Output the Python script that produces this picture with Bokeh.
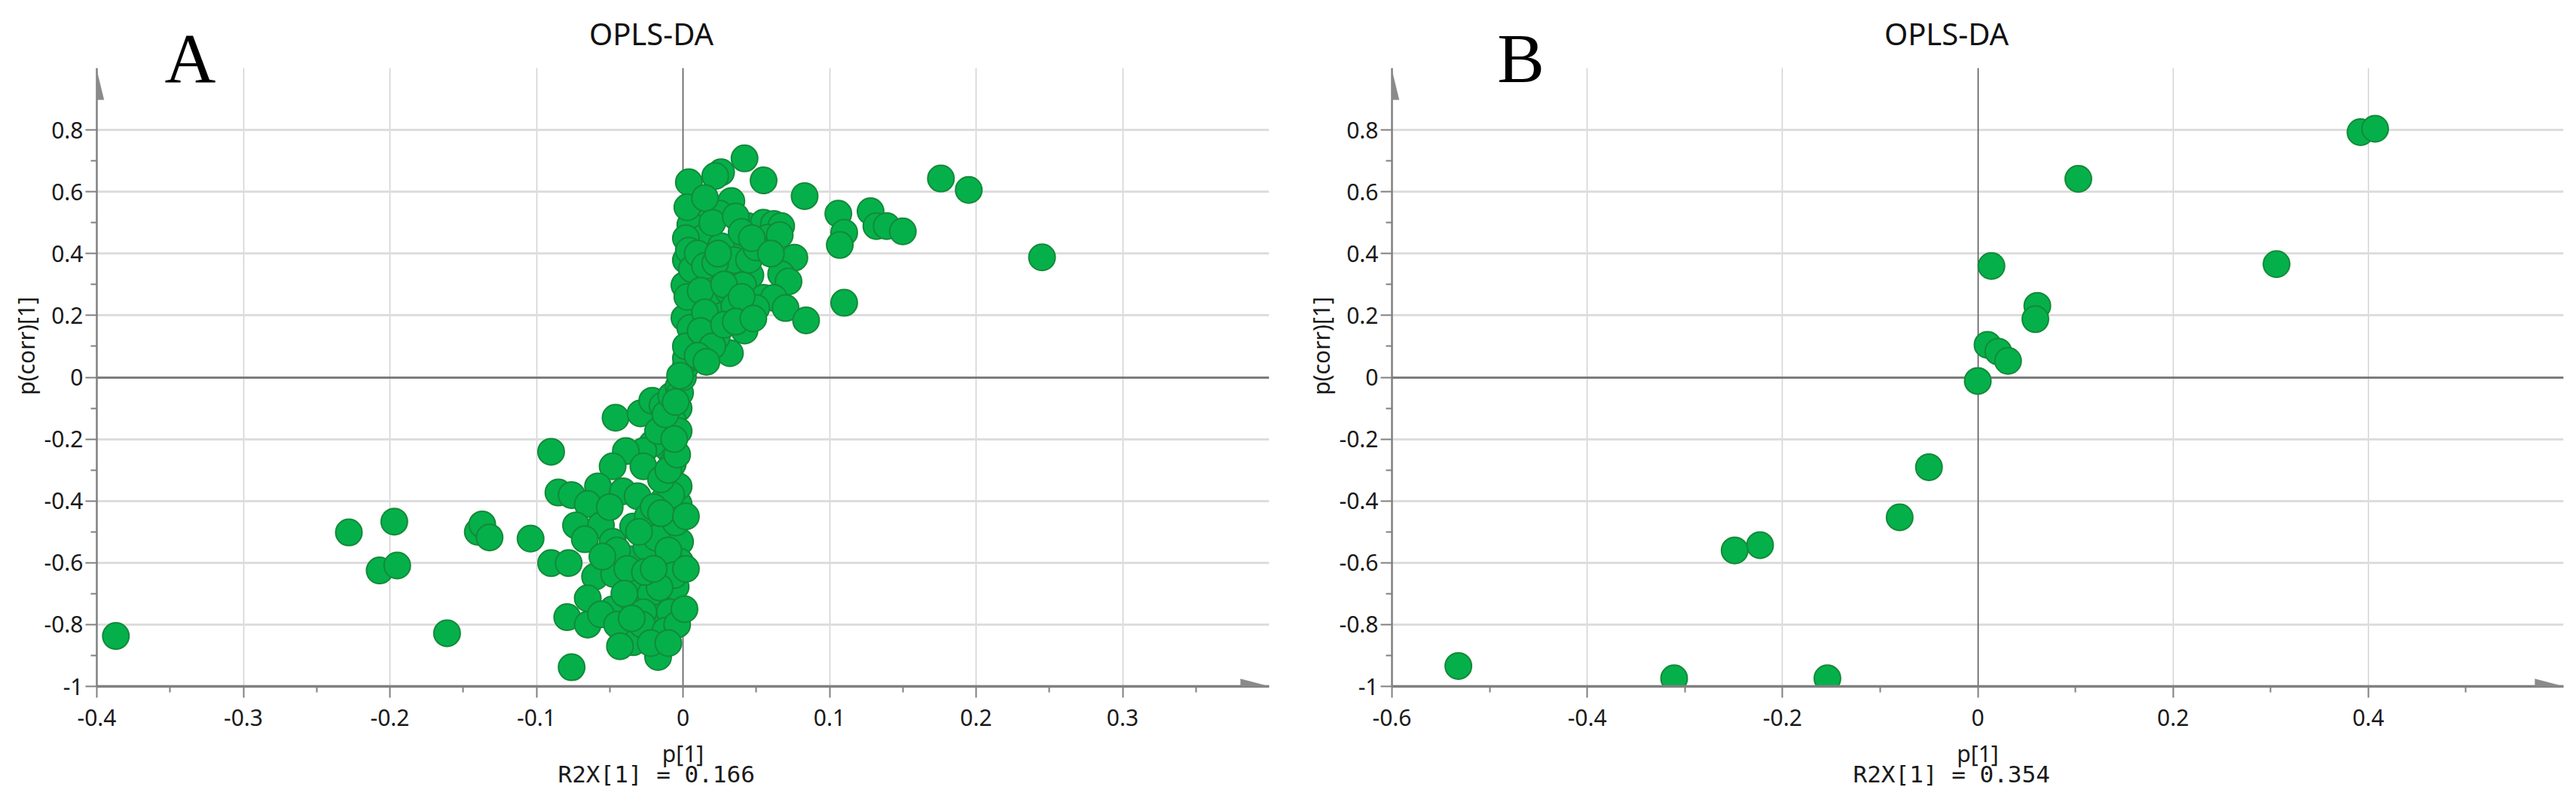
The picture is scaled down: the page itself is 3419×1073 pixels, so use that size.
from bokeh.plotting import figure
from bokeh.layouts import row
from bokeh.models import (Range1d, FixedTicker, CustomJSTickFormatter, Label, Grid, Title,
                          PolyAnnotation, ColumnDataSource)
from bokeh.embed import file_html
from bokeh.resources import INLINE

# ---------------- data ----------------
# Panel A : p[1] and p(corr)[1]
a_p1 = [
    # left outliers
    -0.387, -0.228, -0.197, -0.207, -0.195, -0.161, -0.140, -0.137, -0.132, -0.104,
    -0.090, -0.090, -0.078, -0.085, -0.076, -0.079, -0.076, -0.065, -0.046, -0.017,
    # lower cluster
    -0.029, -0.021, -0.014, -0.003, -0.007, -0.010, -0.021, -0.027, -0.039, -0.048,
    -0.027, -0.007, -0.017, -0.003, -0.058, -0.065, -0.041, -0.031, -0.014, -0.003,
    -0.003, -0.073, -0.056, -0.034, -0.024, -0.012, -0.002, -0.067, -0.048, -0.060,
    -0.047, -0.036, -0.030, -0.013, -0.002, -0.065, -0.048, -0.033, -0.022, -0.007,
    -0.005, -0.041, -0.034, -0.019, -0.021, -0.009, -0.027, -0.056,
    -0.045, -0.038, -0.025, -0.018, -0.010, -0.005, -0.008, -0.015, -0.020, -0.050,
    -0.040, -0.028, -0.012, -0.004, -0.006, -0.016, -0.026, -0.055, -0.045, -0.030,
    -0.010, -0.004, -0.006, -0.012, -0.008, -0.003, -0.015, -0.020, -0.035, -0.043,
    -0.022, -0.010, 0.002, 0.001, 0.002, -0.002, 0.000, 0.002, 0.004, -0.005,
    # upper cluster
    0.042, 0.026, 0.022, 0.004, 0.055, 0.083, 0.176, 0.195, 0.245, 0.106,
    0.128, 0.110, 0.107, 0.132, 0.139, 0.150, 0.110, 0.007, 0.033, 0.025,
    0.005, 0.014, 0.044, 0.055, 0.062, 0.067, 0.058, 0.066, 0.041, 0.026,
    0.076, 0.002, 0.067, 0.072, 0.010, 0.020, 0.032, 0.046, 0.035, 0.001,
    0.007, 0.001, 0.019, 0.031, 0.041, 0.055, 0.062, 0.070, 0.084, 0.042,
    0.032, 0.023, 0.007, 0.002, 0.027, 0.017, 0.050, -0.002,
    0.003, 0.002, 0.004, 0.006, 0.003, 0.005, 0.002, 0.010, 0.015, 0.012,
    0.015, 0.022, 0.028, 0.035, 0.040, 0.045, 0.050, 0.020, 0.036, 0.040,
    0.047, 0.015, 0.024, 0.012, 0.020, 0.028, 0.036, 0.048, 0.060, 0.010,
    0.016,
]
a_pcorr = [
    -0.837, -0.502, -0.467, -0.625, -0.609, -0.828, -0.500, -0.476, -0.518, -0.522,
    -0.241, -0.601, -0.601, -0.373, -0.381, -0.776, -0.938, -0.800, -0.131, -0.905,
    -0.117, -0.076, -0.092, -0.100, -0.141, -0.231, -0.215, -0.239, -0.239, -0.288,
    -0.288, -0.280, -0.174, -0.174, -0.353, -0.410, -0.369, -0.385, -0.402, -0.410,
    -0.353, -0.479, -0.479, -0.483, -0.450, -0.479, -0.532, -0.524, -0.532, -0.645,
    -0.637, -0.589, -0.666, -0.605, -0.597, -0.715, -0.751, -0.735, -0.700, -0.727,
    -0.678, -0.824, -0.857, -0.800, -0.776, -0.760, -0.760, -0.767,
    -0.560, -0.620, -0.550, -0.520, -0.560, -0.470, -0.380, -0.330, -0.420, -0.420,
    -0.700, -0.800, -0.820, -0.800, -0.640, -0.680, -0.630, -0.580, -0.800, -0.500,
    -0.300, -0.250, -0.200, -0.120, -0.060, -0.030, -0.440, -0.620, -0.780, -0.870,
    -0.860, -0.860, -0.620, -0.750, -0.450, -0.050, 0.000, 0.037, 0.060, -0.080,
    0.708, 0.663, 0.651, 0.631, 0.637, 0.586, 0.643, 0.606, 0.388, 0.529,
    0.537, 0.468, 0.428, 0.489, 0.489, 0.472, 0.241, 0.546, 0.570, 0.529,
    0.493, 0.452, 0.489, 0.500, 0.496, 0.489, 0.452, 0.460, 0.428, 0.424,
    0.387, 0.379, 0.334, 0.310, 0.318, 0.330, 0.346, 0.330, 0.379, 0.298,
    0.224, 0.192, 0.246, 0.278, 0.298, 0.257, 0.257, 0.224, 0.184, 0.151,
    0.078, 0.130, 0.119, 0.062, 0.200, 0.166, 0.224, 0.005,
    0.550, 0.450, 0.410, 0.350, 0.260, 0.160, 0.100, 0.400, 0.360, 0.280,
    0.210, 0.370, 0.300, 0.230, 0.260, 0.380, 0.420, 0.500, 0.520, 0.470,
    0.450, 0.580, 0.400, 0.150, 0.100, 0.170, 0.180, 0.190, 0.400, 0.070,
    0.050,
]

# Panel B
b_p1 = [0.392, 0.407, 0.103, 0.306, 0.014, 0.061, 0.059, 0.010, 0.021, 0.031,
        0.000, -0.050, -0.080, -0.223, -0.249, -0.532, -0.311, -0.154]
b_pcorr = [0.793, 0.804, 0.642, 0.366, 0.360, 0.231, 0.188, 0.105, 0.083, 0.053,
           -0.012, -0.291, -0.453, -0.543, -0.560, -0.934, -0.974, -0.974]

a_xticks = [-0.4, -0.3, -0.2, -0.1, 0, 0.1, 0.2, 0.3]
a_xminor = [-0.35, -0.25, -0.15, -0.05, 0.05, 0.15, 0.25, 0.35]
b_xticks = [-0.6, -0.4, -0.2, 0, 0.2, 0.4]
b_xminor = [-0.5, -0.3, -0.1, 0.1, 0.3, 0.5]
y_ticks = [-1, -0.8, -0.6, -0.4, -0.2, 0, 0.2, 0.4, 0.6, 0.8]
y_minor = [-0.9, -0.7, -0.5, -0.3, -0.1, 0.1, 0.3, 0.5, 0.7]
y_axis_span = (-1.0, 1.0)

a_r2x = "R2X[1] = 0.166"
b_r2x = "R2X[1] = 0.354"
title_text = "OPLS-DA"
x_label = "p[1]"
y_label = "p(corr)[1]"

FONT = "Noto Sans"
GRAY = "#808080"
FILL = "#05b04b"
EDGE = "#138a38"

TOP = 7
PPU = 410.5          # pixels per y unit
TOP_PAD = 83         # px of frame above y = 1.0 (title area)
FRAME_H = TOP_PAD + int(round(2 * PPU))
BOTTOM = 150
H = TOP + FRAME_H + BOTTOM
HAS_CROSS = "cross_bounds" in Grid.properties()


def make_panel(letter, xs, ys, x_range, xticks, xminor, r2x, width, bl, br,
               title_x, letter_x, r2x_offset):
    y0, y1 = y_axis_span
    yr = Range1d(y0, y1 + TOP_PAD / PPU)
    p = figure(width=width, height=H, x_range=Range1d(*x_range), y_range=yr,
               output_backend="svg", toolbar_location=None,
               min_border_left=bl, min_border_right=br,
               min_border_top=TOP, min_border_bottom=BOTTOM,
               background_fill_color="white", border_fill_color="white")
    p.outline_line_color = None
    fw = width - bl - br
    dx = (x_range[1] - x_range[0]) / fw
    dy = 1.0 / PPU

    fmt = CustomJSTickFormatter(code="return tick.toString()")
    p.xaxis.ticker = FixedTicker(ticks=xticks, minor_ticks=xminor)
    p.yaxis.ticker = FixedTicker(ticks=y_ticks, minor_ticks=y_minor)
    p.xaxis.formatter = fmt
    p.yaxis.formatter = fmt
    p.yaxis.bounds = (y0, y1)

    for ax in (p.xaxis, p.yaxis):
        ax.axis_line_color = GRAY
        ax.major_tick_line_color = GRAY
        ax.minor_tick_line_color = GRAY
        ax.major_tick_line_width = 2
        ax.minor_tick_line_width = 2
        ax.major_tick_in = 0
        ax.minor_tick_in = 0
        ax.major_tick_out = 15
        ax.minor_tick_out = 8
        ax.major_label_text_font = FONT
        ax.major_label_text_font_size = "30px"
        ax.major_label_text_color = "#1a1a1a"
        ax.axis_label_text_font = FONT
        ax.axis_label_text_font_size = "30px"
        ax.axis_label_text_font_style = "normal"
        ax.axis_label_text_color = "#1a1a1a"
    p.xaxis.axis_line_width = 3.5
    p.yaxis.axis_line_width = 2.5
    p.xaxis.major_label_standoff = 15
    p.yaxis.major_label_standoff = 3
    p.xaxis.axis_label = x_label
    p.yaxis.axis_label = y_label
    p.xaxis.axis_label_standoff = 13
    p.yaxis.axis_label_standoff = 0

    p.xgrid.grid_line_color = "#d2d2d2"
    p.xgrid.grid_line_width = 1.5
    p.ygrid.grid_line_color = "#dddddd"
    p.ygrid.grid_line_width = 3

    # zero lines (under the points)
    zh = Grid(dimension=1, ticker=FixedTicker(ticks=[0]), grid_line_color="#7c7c7c",
              grid_line_width=3)
    zv = Grid(dimension=0, ticker=FixedTicker(ticks=[0]), grid_line_color="#5a5a5a",
              grid_line_width=1.5)
    p.add_layout(zh)
    p.add_layout(zv)
    if HAS_CROSS:
        p.xgrid.cross_bounds = (y0, y1)
        zv.cross_bounds = (y0, y1)

    src = ColumnDataSource(dict(x=xs, y=ys))
    p.scatter("x", "y", source=src, size=35, fill_color=FILL, line_color=EDGE, line_width=2)

    # axis arrowheads
    xe = x_range[1]
    p.add_layout(PolyAnnotation(xs=[xe, xe - 38 * dx, xe - 38 * dx],
                                ys=[y0, y0 + 10 * dy, y0 - 10 * dy],
                                fill_color="#8a8a8a", fill_alpha=1.0, line_color="#8a8a8a",
                                line_width=1))
    xs0 = x_range[0]
    tip = y1 - 3 * dy
    p.add_layout(PolyAnnotation(xs=[xs0, xs0 - 9.5 * dx, xs0 + 9.5 * dx],
                                ys=[tip, tip - 39 * dy, tip - 39 * dy],
                                fill_color="#8a8a8a", fill_alpha=1.0, line_color="#8a8a8a",
                                line_width=1))

    p.add_layout(Label(x=title_x, y=FRAME_H - 37, x_units="screen", y_units="screen",
                       text=title_text, text_align="center", text_baseline="middle",
                       text_font=FONT, text_font_size="40px", text_color="#111111"))
    p.add_layout(Label(x=letter_x, y=FRAME_H - 69, x_units="screen", y_units="screen",
                       text=letter, text_align="center", text_baseline="middle",
                       text_font="Liberation Serif", text_font_size="94px",
                       text_color="#000000"))
    p.add_layout(Title(text=r2x, align="left", offset=r2x_offset, vertical_align="top",
                       standoff=-28, text_font="DejaVu Sans Mono", text_font_size="31px",
                       text_font_style="normal", text_color="#1a1a1a"), "below")
    return p


# label positions measured from the frame's left / bottom edge
pa = make_panel("A", a_p1, a_pcorr, (-0.4, 0.4), a_xticks, a_xminor, a_r2x,
                1700, 128, 16, 736, 124, 612)
pb = make_panel("B", b_p1, b_pcorr, (-0.6, 0.6), b_xticks, b_xminor, b_r2x,
                1704, 147, 2, 736, 171, 612)

layout = row(pa, pb)
open("out.html", "w").write(file_html(layout, INLINE))
